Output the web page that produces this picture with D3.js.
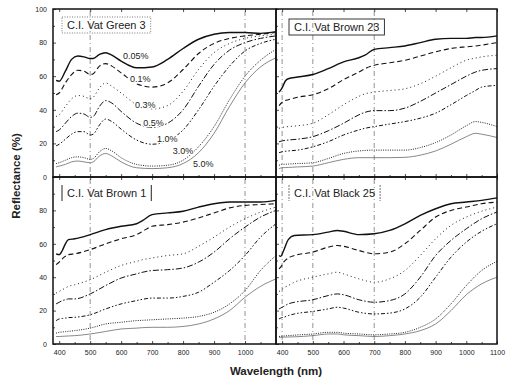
<!DOCTYPE html>
<html>
<head>
<meta charset="utf-8">
<script src="https://cdn.jsdelivr.net/npm/d3@7"></script>
<style>
  body { margin: 0; background: #fff; }
  svg { font-family: Arial, "Liberation Sans", sans-serif; }
  .tick text { font-size: 7px; fill: #222; }
  .domain { display: none; }
  .tick line { stroke: #222; stroke-width: 0.8; }
</style>
</head>
<body>
<div id="chart"></div>
<script>
// concentrations (top-left labels)
const concLabels = ['0.05%', '0.1%', '0.3%', '0.5%', '1.0%', '3.0%', '5.0%'];

// C.I. Vat Green 3
const wlGreen3 = [390, 400, 420, 440, 460, 480, 500, 510, 530, 550, 570, 600, 650, 700, 750, 800, 850, 900, 950, 1000, 1050, 1100];
const green3 = [
  [57.5, 57, 63, 70, 72, 71.5, 70.5, 70.5, 73, 74, 72.5, 69, 65, 65.5, 70, 76.5, 82, 85, 86, 86, 85.5, 86.5],
  [49, 50, 56, 61, 63.5, 63, 61, 61.5, 66, 67.5, 66, 62, 55.5, 53.5, 56, 64, 73.5, 79.5, 82.5, 84, 85, 86],
  [36, 37, 42, 46.5, 48.5, 48, 46.5, 47.5, 53, 56, 54, 50, 43, 40.5, 42.5, 51, 64, 74, 79.5, 82.5, 84, 85],
  [27, 28, 32, 36, 38, 37.5, 35.5, 36, 42, 45.5, 44, 39, 32, 29.5, 32, 40, 54, 67, 75.5, 80, 82.5, 84],
  [18.5, 19.5, 22.5, 25.5, 27, 27, 25, 25.5, 31, 34.5, 33, 28.5, 22, 19.5, 21.5, 28, 40, 54, 66, 75, 79.5, 82],
  [8, 8.5, 10, 11.5, 12, 11.5, 10.5, 11, 15, 17, 15.5, 11.5, 7.5, 6.5, 7, 10, 18, 30, 46, 60, 69.5, 76],
  [6, 6.5, 7.5, 9, 9.5, 9, 8.5, 9, 12.5, 14, 12.5, 9, 5.5, 5, 5.5, 8, 14.5, 26, 42, 56, 65.5, 71]
];

// C.I. Vat Brown 23
const wlBrown23 = [390, 400, 410, 420, 450, 500, 550, 600, 650, 670, 700, 750, 800, 850, 900, 950, 1000, 1030, 1050, 1100];
const brown23 = [
  [50.5, 53, 57, 58.5, 59.5, 61, 64.5, 68.5, 71, 72.5, 76, 77, 78, 80, 82, 82.5, 82.5, 83, 83, 84],
  [42.5, 44.5, 45.5, 46, 47.5, 49, 52.5, 58, 62.5, 64.5, 66.5, 68, 69.5, 72, 74.5, 76.5, 77.5, 78, 78.5, 80],
  [29, 29.5, 29.8, 30, 30.5, 32, 37, 43, 48, 49.5, 50.5, 51.5, 52.5, 55.5, 60, 65, 69.5, 70.8, 71.5, 72.5],
  [21, 21.5, 21.8, 22, 22.5, 24, 27.5, 32, 37, 38.5, 39.5, 39.5, 41, 45, 50, 55, 60, 62.5, 63.5, 64.5],
  [14.5, 15, 15.3, 15.5, 16, 18, 21, 25, 28, 29, 30, 31.5, 33, 35, 38, 43, 48.5, 51.5, 53.5, 54.5],
  [7, 7.5, 7.6, 7.7, 8, 8.5, 11, 14, 15.5, 15.8, 16, 16, 16, 17.5, 20.5, 25, 30.5, 33, 32.5, 30],
  [5, 5.5, 5.6, 5.7, 6, 6.5, 8.5, 10.5, 11.5, 11.5, 11.5, 11.5, 11.7, 13, 15.5, 19.5, 24, 26, 25.5, 23.5]
];

// C.I. Vat Brown 1
const wlBrown1 = [390, 400, 410, 420, 430, 450, 500, 550, 600, 650, 670, 700, 750, 800, 850, 900, 950, 1000, 1050, 1100];
const brown1 = [
  [54, 53.5, 56, 60, 62.5, 63, 65.5, 68.5, 70.5, 72, 74, 77.5, 78.5, 79.5, 82, 84, 85, 85, 85, 86],
  [47.5, 49, 51, 52.5, 53.5, 54, 56.5, 60, 63, 65.5, 67.5, 70.5, 71.5, 73, 75.5, 78.5, 81.5, 83, 83.5, 84],
  [30.5, 31.5, 32.5, 33.5, 34.5, 35.5, 38.5, 43, 47, 49.5, 50.5, 51.5, 53, 54, 58.5, 64, 70, 75, 79, 82],
  [24, 25, 26, 26.5, 27, 27, 30, 35, 39.5, 42, 43, 44, 44.5, 45.5, 49, 55, 63, 70, 76, 80],
  [14, 15, 15.3, 15.5, 15.8, 16, 17.5, 21, 24, 26, 26.8, 27.5, 27.5, 28.5, 31, 37, 44, 53, 64, 72],
  [6.5, 7, 7.2, 7.4, 7.6, 8, 9.5, 12, 13, 14, 14.2, 14.5, 15, 15.5, 16.5, 19, 24, 32, 44, 53],
  [4.5, 4.5, 4.6, 4.7, 4.8, 5, 6, 7.5, 9, 9.5, 9.8, 10, 10, 10.5, 12, 15, 20, 28, 34.5, 39]
];

// C.I. Vat Black 25
const wlBlack25 = [390, 395, 405, 420, 440, 500, 550, 580, 600, 650, 700, 750, 800, 850, 900, 950, 1000, 1050, 1100];
const black25 = [
  [53, 52.5, 56, 62.5, 65, 65.5, 67, 68, 67.5, 65.5, 66, 68, 72, 77, 81, 84, 85, 86, 87.5],
  [45, 46, 49, 51.5, 53, 55, 58, 59, 58.5, 56, 54, 55, 60, 68, 76, 80, 82, 84, 85],
  [31.5, 32, 33.5, 35, 37, 40, 42, 43, 42, 39, 37, 39, 44, 53, 63, 71, 76, 79.5, 82],
  [21, 21.5, 22.5, 24, 25, 26.5, 29, 30, 29.5, 26.5, 25, 26, 30, 40, 53, 62, 69, 75, 79],
  [15, 15.5, 16, 17, 18, 19.5, 21, 22, 21.5, 19, 18, 18.5, 21, 28, 40, 52, 61, 67.5, 72],
  [4.5, 4.6, 4.8, 5, 5.3, 6, 7, 7, 6.5, 6, 5.5, 6, 7, 10, 15, 24, 35, 44, 49.5],
  [4, 4, 4.1, 4.2, 4.3, 5, 6, 6, 5.5, 5, 4.5, 5, 6, 8, 12, 20, 29.5, 36, 40]
];

const dyeNames = ['C.I. Vat Green 3', 'C.I. Vat Brown 23', 'C.I. Vat Brown 1', 'C.I. Vat Black 25'];
const yTicksTop = [0, 20, 40, 60, 80, 100];
const yTicksBottom = [0, 20, 40, 60, 80];
const xTicksLeft = [400, 500, 600, 700, 800, 900, 1000];
const xTicksRight = [400, 500, 600, 700, 800, 900, 1000, 1100];

const W = 509, H = 386;
const svg = d3.select('#chart').append('svg').attr('width', W).attr('height', H);

// line looks per concentration
const lineLooks = [
  { dash: null, w: 1.4, c: '#111' },
  { dash: '5,3', w: 1.1, c: '#111' },
  { dash: '1,3', w: 1, c: '#222' },
  { dash: '6,2,1.5,2', w: 1, c: '#111' },
  { dash: '4,2,1.5,2,1.5,2', w: 1, c: '#111' },
  { dash: '1,1.3', w: 1, c: '#222' },
  { dash: null, w: 0.7, c: '#555' }
];

const xLeft = d3.scaleLinear().domain([380, 1100]).range([53, 276]);
const xRight = d3.scaleLinear().domain([380, 1100]).range([276, 497]);
const yTop = d3.scaleLinear().domain([0, 100]).range([177, 9]);
const yBottom = d3.scaleLinear().domain([0, 100]).range([344, 177]);

const panels = [
  { name: dyeNames[0], wl: wlGreen3, data: green3, x: xLeft, y: yTop, grid: [500, 1000], box: 'dotted' },
  { name: dyeNames[1], wl: wlBrown23, data: brown23, x: xRight, y: yTop, grid: [400, 500, 700], box: 'solid' },
  { name: dyeNames[2], wl: wlBrown1, data: brown1, x: xLeft, y: yBottom, grid: [500, 1000], box: 'bars' },
  { name: dyeNames[3], wl: wlBlack25, data: black25, x: xRight, y: yBottom, grid: [400, 500, 700], box: 'faint' }
];

panels.forEach((p, i) => {
  const g = svg.append('g');
  const [x0, x1] = p.x.range();
  const [yb, yt] = p.y.range();
  const isLeft = i % 2 === 0, isTop = i < 2;

  // light dash-dot guide lines
  g.selectAll('.grid').data(p.grid).enter().append('line')
    .attr('x1', d => p.x(d)).attr('x2', d => p.x(d))
    .attr('y1', yt + 2).attr('y2', yb - 2)
    .attr('stroke', '#777').attr('stroke-width', 0.8)
    .attr('stroke-dasharray', '5,3,1,3');

  // curves
  const line = d3.line()
    .x((d, k) => p.x(p.wl[k]))
    .y(d => p.y(d))
    .curve(d3.curveMonotoneX);
  g.selectAll('.curve').data(p.data).enter().append('path')
    .attr('d', d => line(d))
    .attr('fill', 'none')
    .attr('stroke', (d, k) => lineLooks[k].c)
    .attr('stroke-width', (d, k) => lineLooks[k].w)
    .attr('stroke-dasharray', (d, k) => lineLooks[k].dash);

  // axes, ticks pointing inward
  const bottomMajor = d3.axisBottom(p.x).tickValues(isLeft ? xTicksLeft : xTicksRight)
    .tickFormat(d3.format('d')).tickSize(-3).tickPadding(6);
  const bottomMinor = d3.axisBottom(p.x).tickValues(d3.range(450, 1100, 100)).tickSize(-2).tickFormat('');
  const ga = g.append('g').attr('transform', `translate(0,${yb})`).call(bottomMajor);
  g.append('g').attr('transform', `translate(0,${yb})`).call(bottomMinor);
  if (isTop) ga.selectAll('text').remove();
  g.append('g').attr('transform', `translate(0,${yt})`)
    .call(d3.axisTop(p.x).tickValues(isLeft ? xTicksLeft : xTicksRight).tickSize(-3).tickFormat(''));

  const yTicks = isTop ? yTicksTop : yTicksBottom;
  const gy = g.append('g').attr('transform', `translate(${x0},0)`)
    .call(d3.axisLeft(p.y).tickValues(yTicks).tickSize(-3).tickPadding(6));
  g.append('g').attr('transform', `translate(${x0},0)`)
    .call(d3.axisLeft(p.y).tickValues(d3.range(10, 100, 20)).tickSize(-2).tickFormat(''));
  if (!isLeft) gy.selectAll('text').remove();

  // frame
  g.append('rect').attr('x', x0).attr('y', yt).attr('width', x1 - x0).attr('height', yb - yt)
    .attr('fill', 'none').attr('stroke', '#111').attr('stroke-width', 1.5);

  // dye name
  const lx = x0 + (isLeft ? 9 : 13), ly = yt + (isTop ? (isLeft ? 8 : 10) : 8);
  const t = g.append('text').attr('x', lx + 5).attr('y', ly + 12)
    .attr('font-size', 11).attr('fill', '#222').text(p.name);
  const tw = t.node().getComputedTextLength();
  if (p.box === 'solid' || p.box === 'dotted') {
    g.append('rect').attr('x', lx).attr('y', ly).attr('width', tw + 10).attr('height', 16)
      .attr('fill', 'none').attr('stroke', p.box === 'solid' ? '#222' : '#555')
      .attr('stroke-width', p.box === 'solid' ? 0.9 : 0.8)
      .attr('stroke-dasharray', p.box === 'solid' ? null : '1,1.5');
  } else {
    [lx, lx + tw + 10].forEach(bx => {
      g.append('line').attr('x1', bx).attr('x2', bx).attr('y1', ly).attr('y2', ly + 16)
        .attr('stroke', p.box === 'bars' ? '#222' : '#777').attr('stroke-width', 1)
        .attr('stroke-dasharray', p.box === 'bars' ? null : '2,1');
    });
  }
});

// concentration labels (top-left panel): [wavelength, reflectance] of baseline start
const labelAt = [[606, 70], [629, 56.5], [645, 41], [671, 30.5], [716, 21], [767, 13.7], [832, 6]];
svg.append('g').selectAll('text').data(concLabels).enter().append('text')
  .attr('x', (d, k) => xLeft(labelAt[k][0]))
  .attr('y', (d, k) => yTop(labelAt[k][1]))
  .attr('font-size', 9).attr('fill', '#222')
  .attr('stroke', '#fff').attr('stroke-width', 2.5).attr('paint-order', 'stroke')
  .text(d => d);

// axis titles
svg.append('text').attr('transform', 'translate(20,176) rotate(-90)')
  .attr('text-anchor', 'middle').attr('font-size', 11.5).attr('font-weight', 'bold')
  .attr('fill', '#222').text('Reflectance (%)');
svg.append('text').attr('x', 276).attr('y', 375)
  .attr('text-anchor', 'middle').attr('font-size', 11.5).attr('font-weight', 'bold')
  .attr('fill', '#222').text('Wavelength (nm)');
</script>
</body>
</html>
